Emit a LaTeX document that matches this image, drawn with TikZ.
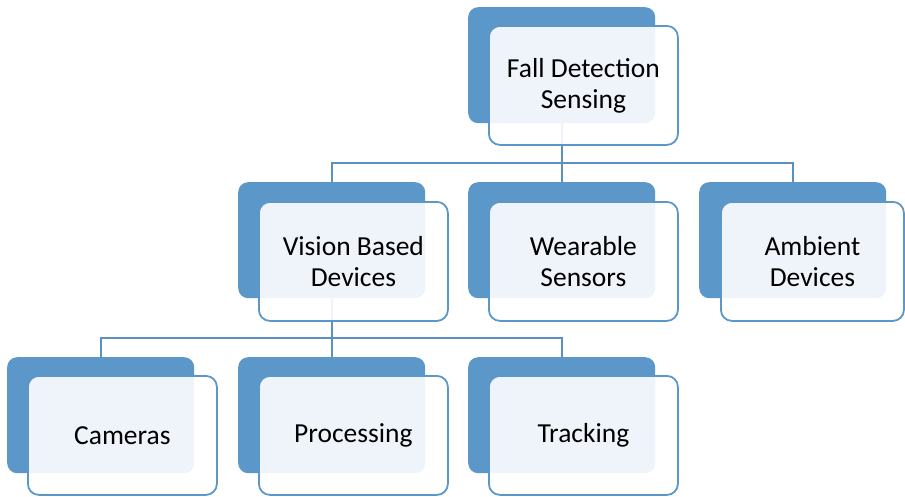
\documentclass[tikz,border=0pt]{standalone}
\usepackage{fontspec}
\setmainfont{Carlito}
\definecolor{bkblue}{HTML}{5B97C9}
\definecolor{lnblue}{HTML}{5A90C4}
\begin{document}
\begin{tikzpicture}[x=1pt,y=-1pt,
  backbox/.style={draw=none, fill=bkblue, rounded corners=10pt, minimum width=187pt, minimum height=116pt, anchor=north west, inner sep=0pt},
  frontbox/.style={draw=bkblue, line width=1.8pt, fill=white, fill opacity=0.9, text opacity=1, rounded corners=11pt, minimum width=189pt, minimum height=119pt, anchor=north west, align=center, font=\fontsize{27.5}{31}\selectfont, inner sep=0pt},
  conn/.style={draw=lnblue, line width=1.8pt}]
\useasboundingbox (0,0) rectangle (905,496);
% back boxes
\node[backbox] (topbk) at (468,7) {};
\node[backbox] (visbk) at (238,182) {};
\node[backbox] (wearbk) at (468,182) {};
\node[backbox] (ambbk) at (699,182) {};
\node[backbox] (cambk) at (7,357) {};
\node[backbox] (procbk) at (238,357) {};
\node[backbox] (trackbk) at (468,357) {};
% buses
\coordinate (busA) at (0,163);
\coordinate (busB) at (0,338);
% connectors
\draw[conn] (topbk.south) -- (topbk.south |- busA);
\draw[conn] (visbk.north) |- (topbk.south |- busA) -| (ambbk.north);
\draw[conn] (wearbk.north) -- (wearbk.north |- busA);
\draw[conn] (visbk.south) -- (visbk.south |- busB);
\draw[conn] (cambk.north) |- (visbk.south |- busB) -| (trackbk.north);
\draw[conn] (procbk.north) -- (procbk.north |- busB);
% front boxes
\node[frontbox] (topfr) at (488,25) {Fall Detection\\Sensing};
\node[frontbox] (visfr) at (258,201) {Vision Based\\Devices};
\node[frontbox] (wearfr) at (488,201) {Wearable\\Sensors};
\node[frontbox, minimum width=183pt] (ambfr) at (720,201) {Ambient\\Devices};
\node[frontbox] (camfr) at (27,375) {Cameras};
\node[frontbox] (procfr) at (258,375) {Processing};
\node[frontbox] (trackfr) at (488,375) {Tracking};
\end{tikzpicture}
\end{document}
